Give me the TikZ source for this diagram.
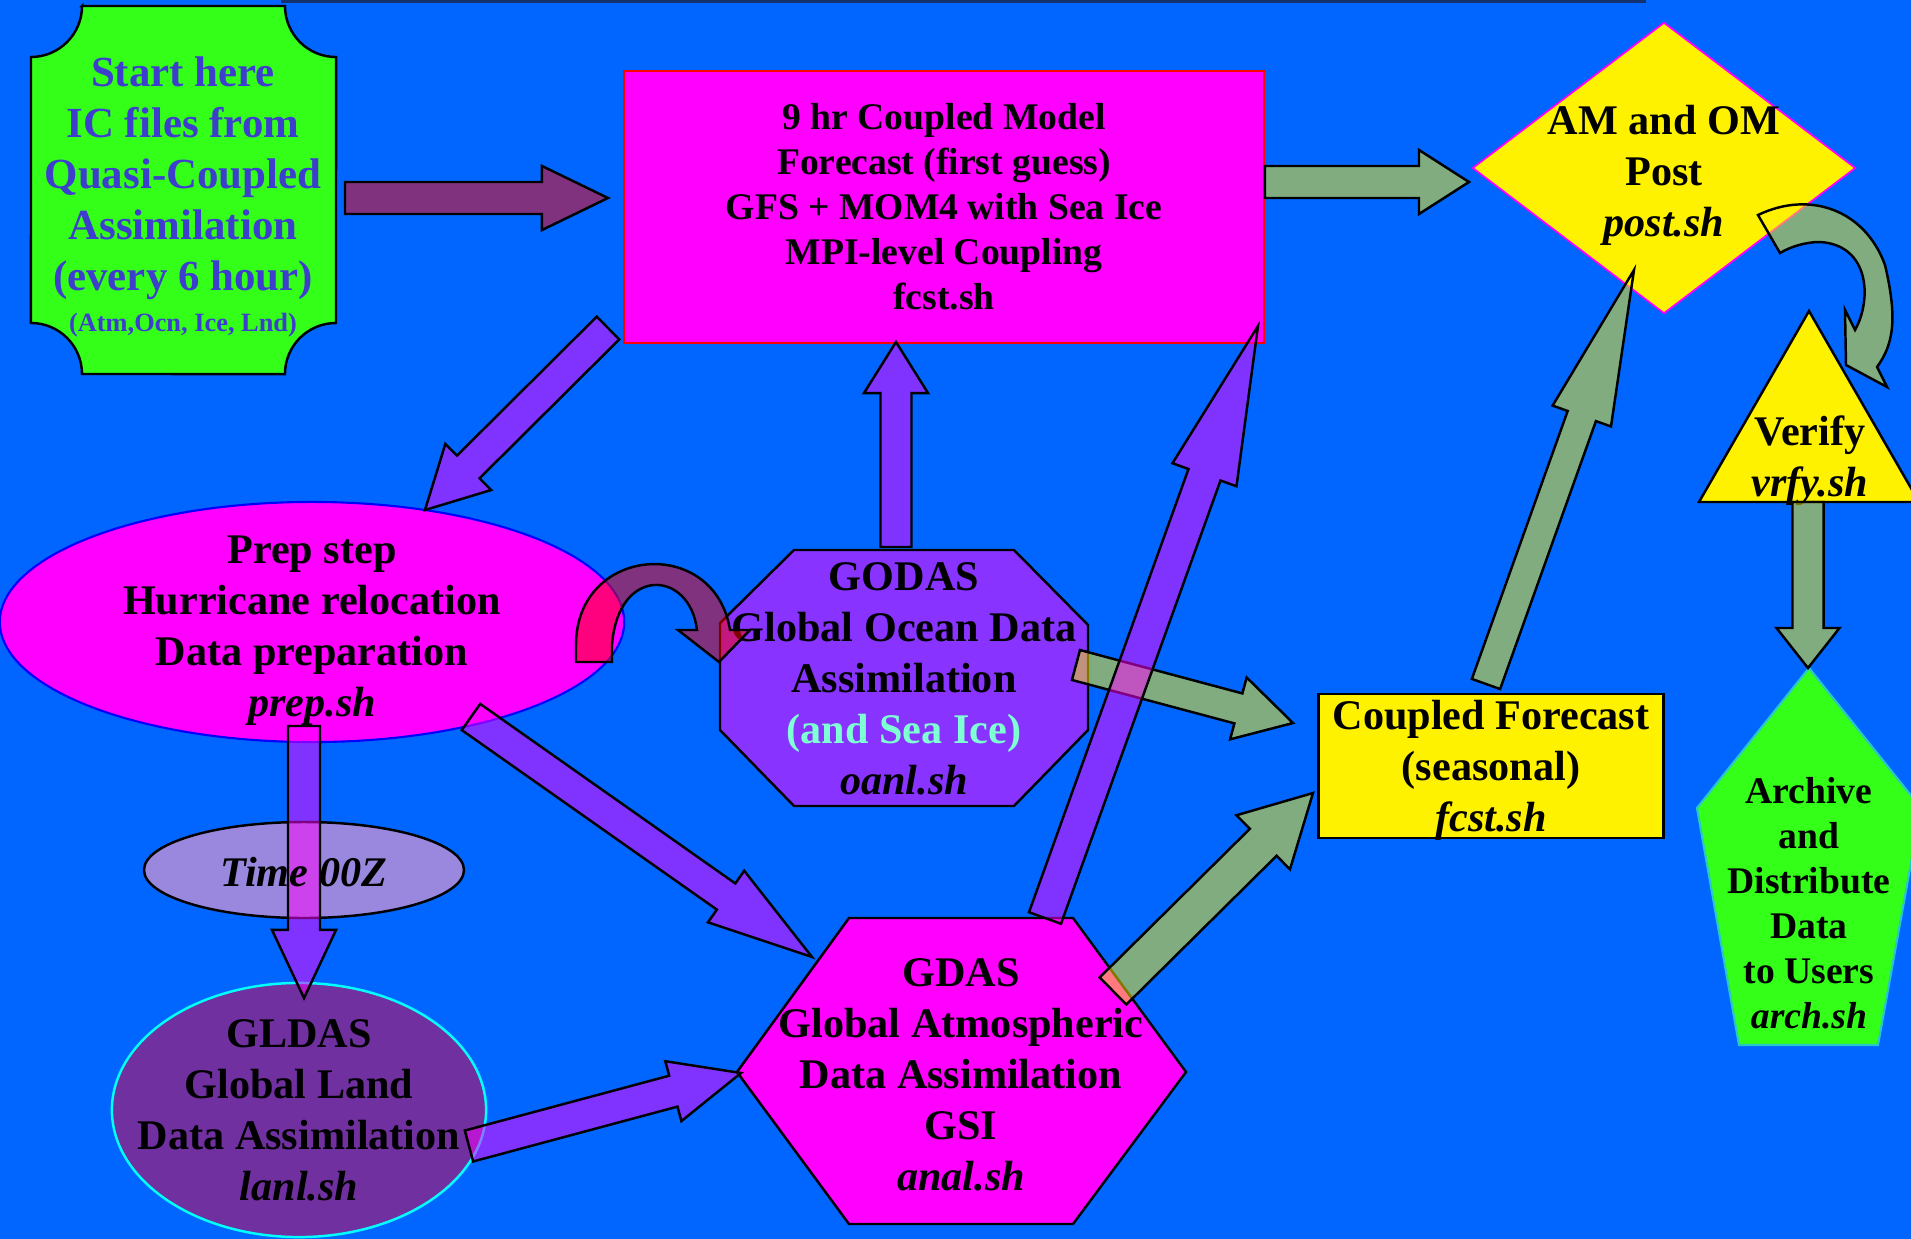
\documentclass[tikz,border=0pt]{standalone}
\usepackage{fontspec}
\setmainfont{Liberation Serif}
\usepackage{tikz}
\usetikzlibrary{shapes,shapes.misc,shapes.geometric,arrows,positioning,calc,arrows.meta}
\definecolor{skyBlue}{RGB}{0,102,255}
\definecolor{hotMagenta}{RGB}{255,0,255}
\definecolor{limeGreen}{RGB}{51,255,25}
\definecolor{inkBlue}{RGB}{62,62,206}
\definecolor{oceanViolet}{RGB}{136,51,255}
\definecolor{seaAqua}{RGB}{127,255,212}
\definecolor{timeLilac}{RGB}{153,136,221}
\definecolor{landPurple}{RGB}{112,48,160}
\definecolor{edgeCyan}{RGB}{0,255,255}
\definecolor{edgeTeal}{RGB}{40,200,200}
\definecolor{topShade}{RGB}{20,50,110}

% fat block arrow: [style]{tail}{tip}{half shaft}{half head}{head length}
\newcommand{\fatarrow}[6][]{%
  \coordinate (fb) at ($(#3)!#6!(#2)$);
  \draw[#1] ($(#2)!#4!90:(#3)$) -- ($(fb)!#4!90:(#3)$) -- ($(fb)!#5!90:(#3)$) -- (#3)
    -- ($(fb)!#5!-90:(#3)$) -- ($(fb)!#4!-90:(#3)$) -- ($(#2)!#4!-90:(#3)$) -- cycle;
}

\begin{document}
\begin{tikzpicture}[x=0.01cm,y=-0.01cm,
    txt/.style={font=\bfseries\fontsize{12}{14.5}\selectfont,align=center,inner sep=0pt},
    smalltxt/.style={font=\bfseries\fontsize{10.7}{12.8}\selectfont,align=center,inner sep=0pt},
    outline/.style={draw=black,line width=0.7pt},
    purplearrow/.style={outline,fill=hotMagenta,fill opacity=0.5},
    greenarrow/.style={outline,fill=yellow,fill opacity=0.5},
    redarrow/.style={outline,fill=red,fill opacity=0.5}
  ]
  \fill[skyBlue] (0,0) rectangle (1911,1239);
  \useasboundingbox (0,0) rectangle (1911,1239);
  \draw[topShade,line width=1.2pt] (281,1) -- (1646,1);

  % start plaque
  \draw[outline,fill=limeGreen] (82,6) -- (285,6) arc[start angle=180,end angle=270,radius=0.51cm]
    -- (336,323) arc[start angle=90,end angle=180,radius=0.51cm]
    -- (82,374) arc[start angle=0,end angle=90,radius=0.51cm]
    -- (31,57) arc[start angle=270,end angle=360,radius=0.51cm] -- cycle;
  \node[txt,text=inkBlue,font=\bfseries\fontsize{12.2}{14.5}\selectfont] (start) at (183,197) {
    Start here\\IC files from\\Quasi-Coupled\\Assimilation\\(every 6 hour)\\[-2.6pt]
    {\fontsize{7.5}{9}\selectfont (Atm,Ocn, Ice, Lnd)}
  };

  % forecast and post
  \node[smalltxt,draw=red,line width=0.7pt,fill=hotMagenta,minimum width=6.4cm,minimum height=2.72cm] (fcst) at (944,207) {
    9 hr Coupled Model\\Forecast (first guess)\\GFS + MOM4 with Sea Ice\\MPI-level Coupling\\fcst.sh
  };
  \node[txt,diamond,aspect=1.316,draw=hotMagenta,line width=0.5pt,fill=yellow,text depth=0pt,
        minimum width=3.83cm,minimum height=2.91cm,inner sep=-15pt] (post) at (1664,168) {
    \strut AM and OM\\Post\\\textit{post.sh}
  };
  \coordinate (startout) at (345,198);
  \coordinate (fcstin) at (608,198);
  \fatarrow[redarrow]{startout}{fcstin}{0.16cm}{0.32cm}{0.66cm}
  \coordinate (fcstout) at (1265,182);
  \coordinate (postin) at (1469,182);
  \fatarrow[greenarrow]{fcstout}{postin}{0.16cm}{0.32cm}{0.5cm}

  % prep step
  \node[txt,ellipse,draw=blue,line width=0.6pt,fill=hotMagenta,minimum width=6.24cm,
        minimum height=2.4cm,inner sep=-8pt,text depth=0pt] (prep) at (312,622) {
    \strut Prep step\\Hurricane relocation\\Data preparation\\\textit{prep.sh}
  };
  \coordinate (fcstdown) at (608,328);
  \coordinate (prepin) at (425,510);
  \fatarrow[purplearrow]{fcstdown}{prepin}{0.16cm}{0.325cm}{0.61cm}

  % ocean analysis
  \draw[outline,fill=oceanViolet] (794,550) -- (1014,550) -- (1088,625) -- (1088,730) -- (1014,806)
    -- (794,806) -- (720,730) -- (720,623) -- cycle;
  \node[txt] (godas) at (904,679) {
    GODAS\\Global Ocean Data\\Assimilation\\\textcolor{seaAqua}{(and Sea Ice)}\\\textit{oanl.sh}
  };
  \coordinate (godasup) at (896,547);
  \coordinate (fcstbot) at (896,342);
  \fatarrow[purplearrow]{godasup}{fcstbot}{0.155cm}{0.32cm}{0.51cm}
  \coordinate (prepcurl) at (594,662);
  \coordinate (godascurl) at (719,662);
  \draw[redarrow] ($(prepcurl)+(-18,0)$) -- (576,645) .. controls (576,545) and (715,535) .. (730,630)
    -- (750,630) -- (godascurl) -- (678,630) -- (697,630)
    .. controls (690,570) and (618,565) .. (612,645) -- ($(prepcurl)+(18,0)$) -- cycle;

  % land branch
  \draw[outline,fill=timeLilac] (304,870) ellipse[x radius=160,y radius=48];
  \coordinate (prepdown) at (304,726);
  \coordinate (gldasin) at (304,998);
  \node[txt,ellipse,draw=edgeCyan,line width=0.7pt,fill=landPurple,minimum width=3.74cm,
        minimum height=2.54cm,inner sep=-10pt] (gldas) at (299,1110) {
    GLDAS\\Global Land\\Data Assimilation\\\textit{lanl.sh}
  };
  \fatarrow[purplearrow]{prepdown}{gldasin}{0.16cm}{0.32cm}{0.68cm}
  \node[txt] (timez) at (304,872) {\textit{Time 00Z}};

  % atmospheric analysis
  \draw[outline,fill=hotMagenta] (849,918) -- (1073,918) -- (1186,1072) -- (1073,1224) -- (849,1224)
    -- (737,1072) -- cycle;
  \node[txt] (gdas) at (961,1075) {
    GDAS\\Global Atmospheric\\Data Assimilation\\GSI\\\textit{anal.sh}
  };

  % seasonal forecast
  \node[txt,draw=black,line width=0.8pt,fill=yellow,minimum width=3.45cm,minimum height=1.44cm,
        inner sep=-3pt,text depth=0pt] (coupled) at (1491,766) {
    Coupled Forecast\\(seasonal)\\\textit{fcst.sh}
  };
  \coordinate (godasout) at (1076,665);
  \coordinate (coupin) at (1293,723);
  \fatarrow[greenarrow]{godasout}{coupin}{0.155cm}{0.32cm}{0.565cm}
  \coordinate (gdasout) at (1113,991);
  \coordinate (coupleft) at (1313,793);
  \fatarrow[greenarrow]{gdasout}{coupleft}{0.19cm}{0.38cm}{0.7cm}
  \coordinate (prepout) at (471,717);
  \coordinate (gdasin) at (812,957);
  \fatarrow[purplearrow]{prepout}{gdasin}{0.16cm}{0.315cm}{1.05cm}
  \coordinate (gldasout) at (469,1146);
  \coordinate (gdasleft) at (741,1073);
  \fatarrow[purplearrow]{gldasout}{gdasleft}{0.16cm}{0.31cm}{0.7cm}
  \coordinate (gdasup) at (1045,918);
  \coordinate (fcstcorner) at (1258,326);
  \fatarrow[purplearrow]{gdasup}{fcstcorner}{0.17cm}{0.34cm}{1.58cm}
  \coordinate (coupup) at (1486,684);
  \coordinate (postbot) at (1634,270);
  \fatarrow[greenarrow]{coupup}{postbot}{0.15cm}{0.31cm}{1.55cm}

  % verify and archive
  \draw[outline,fill=yellow] (1809,311) -- (1919,502) -- (1699,502) -- cycle;
  \node[txt] (verify) at (1810,461) {Verify\\\textit{vrfy.sh}};
  \coordinate (postcurl) at (1769,234);
  \coordinate (verifycurl) at (1846,365);
  \draw[greenarrow] ($(postcurl)+(-11,-19)$) .. controls (1810,190) and (1865,210) .. (1885,265)
    .. controls (1898,320) and (1893,345) .. (1877,367) -- (1887,387) -- (verifycurl) -- (1845,310)
    -- (1855,330) .. controls (1872,300) and (1870,245) .. (1820,242)
    .. controls (1805,242) and (1790,247) .. ($(postcurl)+(11,19)$) -- cycle;
  \draw[draw=edgeTeal,line width=0.6pt,fill=limeGreen] (1809,668) -- (1921,808) -- (1878,1045)
    -- (1739,1045) -- (1697,808) -- cycle;
  \node[smalltxt] (archive) at (1809,903) {
    Archive\\and\\Distribute\\Data\\to Users\\\textit{arch.sh}
  };
  \coordinate (verifydown) at (1808,502);
  \coordinate (archin) at (1808,668);
  \fatarrow[greenarrow]{verifydown}{archin}{0.155cm}{0.315cm}{0.4cm}
\end{tikzpicture}
\end{document}
